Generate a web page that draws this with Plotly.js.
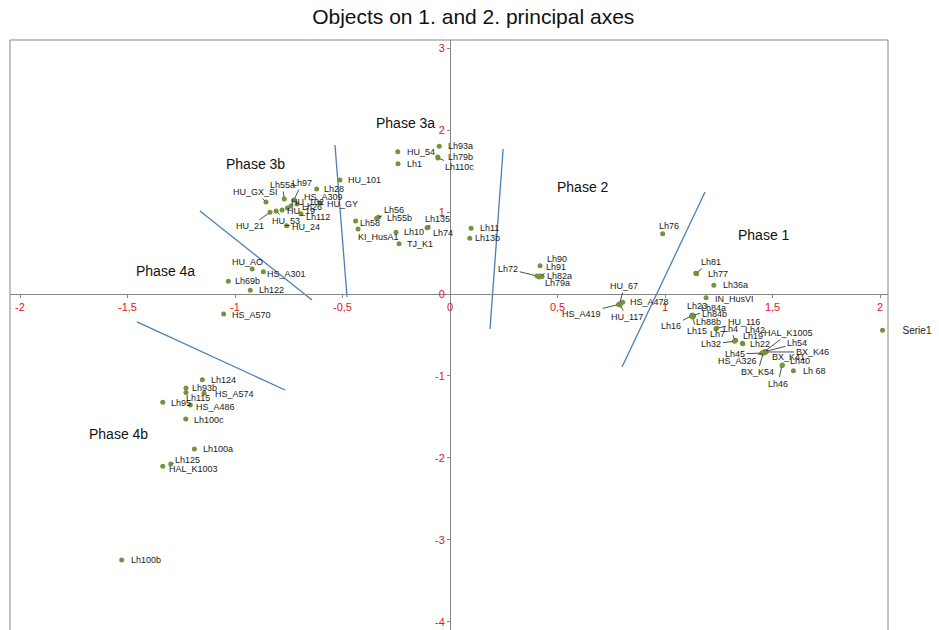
<!DOCTYPE html>
<html>
<head>
<meta charset="utf-8">
<script src="https://cdn.plot.ly/plotly-3.0.1.min.js"></script>
<style>html,body{margin:0;padding:0;background:#fff;}#chart{width:939px;height:630px;}</style>
</head>
<body>
<div id="chart"></div>
<script>
// ---------- DATA ----------
const names = ["HU_54","Lh1","Lh93a","Lh79b","Lh110c","HU_101","Lh56","Lh55b","Lh58","KI_HusA1",
  "Lh10","TJ_K1","Lh135","Lh74","Lh11","Lh13b","Lh90","Lh72","Lh91","Lh82a",
  "Lh79a","HU_67","HS_A478","HS_A419","HU_117","Lh76","Lh81","Lh77","Lh36a","IN_HusVI",
  "Lh23","Lh84a","Lh84b","Lh88b","Lh16","Lh15","HU_116","Lh7","Lh4","Lh42",
  "Lh32","Lh19","Lh22","HAL_K1005","Lh54","BX_K46","BX_K41","Lh45","HS_A326","BX_K54",
  "Lh40","Lh46","Lh 68","HU_AO","HS_A301","Lh69b","Lh122","HS_A570","Lh124","Lh93b",
  "Lh115","HS_A574","Lh95","HS_A486","Lh100c","Lh100a","Lh125","HAL_K1003","Lh100b","HU_GX_SI",
  "Lh55a","Lh97","Lh28","HU_GY","HS_A309","HU_102","HU_19","Lh26","Lh112","HU_21",
  "HU_53","HU_24"];
const axis1 = [-0.243,-0.242,-0.050,-0.057,-0.056,-0.512,-0.341,-0.333,-0.439,-0.428,
  -0.251,-0.237,-0.107,-0.102,0.098,0.092,0.419,0.405,0.419,0.428,
  0.414,0.788,0.803,0.784,0.791,0.989,1.143,1.147,1.227,1.191,
  1.126,1.130,1.128,1.133,1.123,1.128,1.240,1.237,1.326,1.328,
  1.323,1.360,1.362,1.460,1.465,1.470,1.463,1.451,1.456,1.458,
  1.546,1.544,1.597,-0.920,-0.868,-1.031,-0.929,-1.053,-1.152,-1.228,
  -1.228,-1.144,-1.336,-1.208,-1.229,-1.189,-1.299,-1.336,-1.527,-0.856,
  -0.771,-0.726,-0.620,-0.603,-0.712,-0.740,-0.756,-0.781,-0.693,-0.837,
  -0.809,-0.760];
const axis2 = [1.735,1.589,1.801,1.671,1.659,1.390,0.923,0.935,0.890,0.793,
  0.752,0.613,0.809,0.811,0.801,0.679,0.345,0.220,0.220,0.213,
  0.207,-0.122,-0.101,-0.128,-0.134,0.735,0.252,0.248,0.106,-0.045,
  -0.256,-0.262,-0.274,-0.268,-0.268,-0.280,-0.418,-0.424,-0.570,-0.563,
  -0.576,-0.601,-0.607,-0.707,-0.701,-0.707,-0.717,-0.720,-0.720,-0.713,
  -0.866,-0.872,-0.935,0.305,0.272,0.155,0.045,-0.244,-1.045,-1.146,
  -1.201,-1.211,-1.321,-1.354,-1.524,-1.890,-2.073,-2.101,-3.244,1.122,
  1.159,1.146,1.280,1.106,1.098,1.073,1.049,1.024,0.980,0.996,
  1.012,0.833];

const xTickVals = [-2,-1.5,-1,-0.5,0,0.5,1,1.5,2];
const xTickText = ["-2","-1,5","-1","-0,5","0","0,5","1","1,5","2"];
const yTickVals = [3,2,1,0,-1,-2,-3,-4];
const yTickText = ["3","2","1","0","-1","-2","-3","-4"];

const phaseNames = ["Phase 3a","Phase 3b","Phase 2","Phase 1","Phase 4a","Phase 4b"];
const phaseX = [-0.209,-0.907,0.619,1.460,-1.321,-1.544];
const phaseY = [2.085,1.585,1.305,0.720,0.280,-1.707];

// phase boundary lines: [x start, x end], [y start, y end]
const boundaryX = [[-1.163,-0.642],[-0.535,-0.479],[0.247,0.186],[1.186,0.800],[-1.456,-0.767]];
const boundaryY = [[1.012,-0.073],[1.817,-0.037],[1.768,-0.427],[1.244,-0.890],[-0.341,-1.171]];

// ---------- LABEL PLACEMENT (pixel offsets: dx, dy, leader line) ----------
const labelPlace = [[7,0,0],[7,0,0],[7,0,0],[8,0,0],[22,9,1],[6,0,0],[17,-8,1],[7,1,0],[2,2,0],[-2,8,0],
  [6,0,0],[6,0,0],[10,-9,1],[3,5,0],[7,0,0],[3,0,0],[5,-7,0],[-29,-7,1],[16,-9,1],[3,-1,0],
  [4,6,0],[5,-18,1],[5,0,0],[-37,9,1],[7,12,1],[-6,-8,0],[15,-11,1],[9,0,0],[7,0,0],[7,1,0],
  [-7,-9,0],[21,-7,1],[7,-2,0],[15,6,1],[-20,10,1],[4,14,1],[27,-6,1],[-8,5,0],[-5,-12,1],[7,-10,0],
  [-23,3,1],[-1,-7,0],[5,0,0],[25,-19,1],[32,-8,1],[46,0,1],[5,4,0],[-27,1,1],[-26,8,1],[-6,20,1],
  [6,-4,0],[-4,18,1],[8,0,0],[-22,-7,0],[2,2,0],[5,0,0],[7,0,0],[6,1,0],[7,0,0],[4,0,0],
  [12,6,1],[9,1,0],[6,1,0],[4,2,0],[6,1,0],[7,0,0],[17,-4,1],[4,3,0],[7,0,0],[-10,-10,1],
  [-2,-14,1],[8,-17,1],[5,0,0],[5,1,0],[5,-7,0],[-2,-4,0],[-2,3,0],[18,-3,0],[3,3,0],[-20,14,1],
  [10,10,1],[3,1,0]];

// ---------- GEOMETRY ----------
const W = 939, H = 630;
const mL = 10, mR = 51, mT = 40, mB = 0;
const xRange = [-2.0465, 2.037];
const yRange = [-4.098, 3.098];
const xAxisPos = (0 - yRange[0]) / (yRange[1] - yRange[0]);
const yAxisPos = (0 - xRange[0]) / (xRange[1] - xRange[0]);

const FONT = "Liberation Sans, Arial, Helvetica, sans-serif";
const RED = "#e0141e";
const AXC = "#868686";

const traces = [];
boundaryX.forEach((bx, i) => {
  traces.push({x: bx, y: boundaryY[i], type: "scatter", mode: "lines",
    line: {color: "#4a7ebb", width: 1.3}, showlegend: false, hoverinfo: "skip"});
});
traces.push({x: axis1, y: axis2, text: names, type: "scatter", mode: "markers",
  name: "Serie1", marker: {color: "#76923c", size: 5}, hoverinfo: "text"});

const annotations = [];
names.forEach((n, i) => {
  const p = labelPlace[i];
  const base = {x: axis1[i], y: axis2[i], xref: "x", yref: "y", text: n,
    font: {family: FONT, size: 9, color: "#1a1a1a"}};
  if (p[2]) {
    annotations.push(Object.assign(base, {showarrow: true, arrowhead: 0, arrowwidth: 0.8,
      arrowcolor: "#222", ax: p[0], ay: p[1], standoff: 2, startstandoff: 0}));
  } else {
    annotations.push(Object.assign(base, {showarrow: false, xanchor: "left", yanchor: "middle",
      xshift: p[0], yshift: -p[1]}));
  }
});
phaseNames.forEach((n, i) => {
  annotations.push({x: phaseX[i], y: phaseY[i], xref: "x", yref: "y", text: n, showarrow: false,
    xanchor: "center", yanchor: "middle", font: {family: FONT, size: 14, color: "#111"}});
});

const layout = {
  width: W, height: H,
  margin: {l: mL, r: mR, t: mT, b: mB, pad: 0},
  paper_bgcolor: "#fff", plot_bgcolor: "#fff",
  separators: ",.",
  font: {family: FONT, size: 10, color: "#222"},
  title: {text: "Objects on 1. and 2. principal axes", x: 0.504, xanchor: "center",
    y: 0.973, yanchor: "middle", font: {family: FONT, size: 21, color: "#111"}},
  hovermode: false,
  showlegend: true,
  legend: {x: 0.971, xanchor: "left", y: 0.508, yanchor: "middle", bgcolor: "rgba(0,0,0,0)",
    font: {family: FONT, size: 10, color: "#222"}, itemwidth: 30},
  xaxis: {range: xRange, anchor: "free", position: xAxisPos, showgrid: false, zeroline: false,
    showline: true, linecolor: AXC, linewidth: 1, ticks: "outside", ticklen: 3, tickcolor: AXC,
    tickmode: "array", tickvals: xTickVals, ticktext: xTickText,
    tickfont: {family: FONT, size: 11, color: RED}, fixedrange: true},
  yaxis: {range: yRange, anchor: "free", position: yAxisPos, showgrid: false, zeroline: false,
    showline: true, linecolor: AXC, linewidth: 1, ticks: "outside", ticklen: 3, tickcolor: AXC,
    tickmode: "array", tickvals: yTickVals, ticktext: yTickText,
    tickfont: {family: FONT, size: 11, color: RED}, fixedrange: true},
  shapes: [{type: "rect", xref: "paper", yref: "paper", x0: 0, x1: 1, y0: -0.05, y1: 1,
    line: {color: AXC, width: 1}, fillcolor: "rgba(0,0,0,0)", layer: "below"}],
  annotations: annotations
};

Plotly.newPlot("chart", traces, layout, {displayModeBar: false, staticPlot: true});
</script>
</body>
</html>
